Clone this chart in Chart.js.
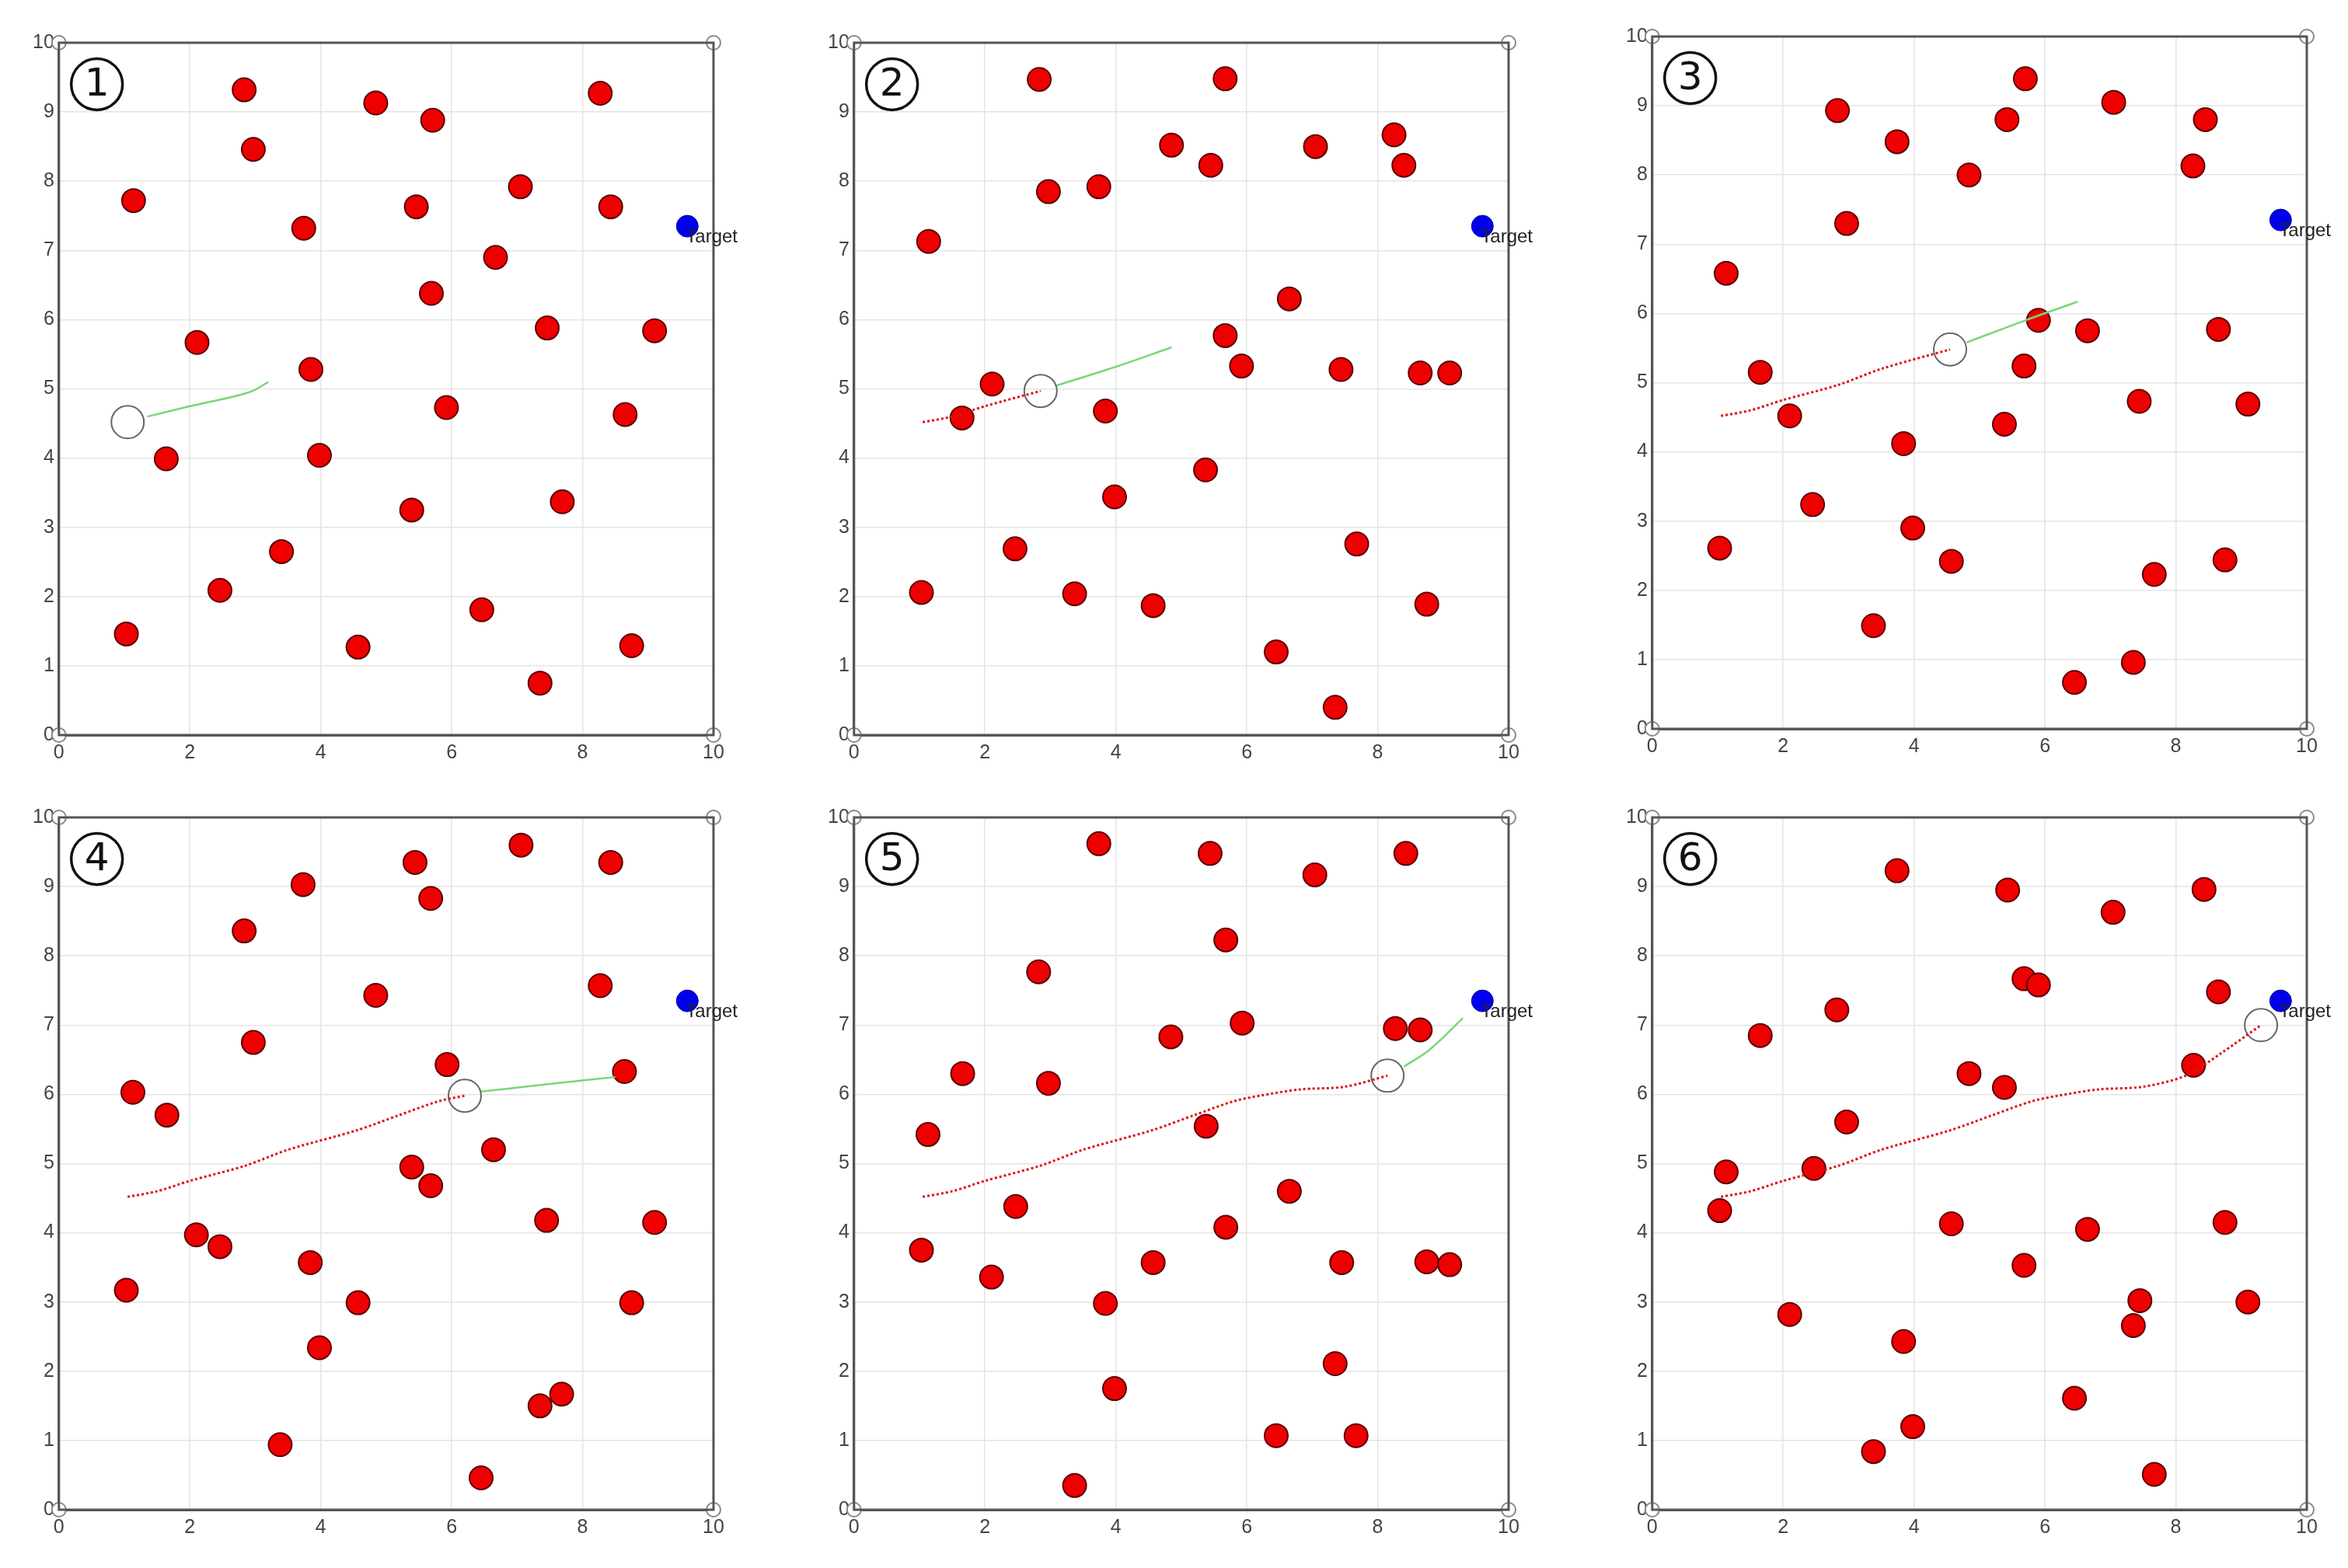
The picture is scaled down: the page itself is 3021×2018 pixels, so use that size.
<!DOCTYPE html>
<html>
<head>
<meta charset="utf-8">
<script src="https://cdn.jsdelivr.net/npm/chart.js@4/dist/chart.umd.min.js"></script>
<style>
  body { margin: 0; background: #fff; width: 3021px; height: 2018px; position: relative; overflow: hidden; }
  canvas { position: absolute; }
</style>
</head>
<body>
<canvas id="c1" width="1000" height="1010" style="left:0px;top:0px"></canvas>
<canvas id="c2" width="1000" height="1010" style="left:1023px;top:0px"></canvas>
<canvas id="c3" width="1000" height="1010" style="left:2050px;top:-8px"></canvas>
<canvas id="c4" width="1000" height="1010" style="left:0px;top:997px"></canvas>
<canvas id="c5" width="1000" height="1010" style="left:1023px;top:997px"></canvas>
<canvas id="c6" width="1000" height="1010" style="left:2050px;top:997px"></canvas>
<script>
// obstacle positions for each frame
const obstacles1 = [[2.83,9.32],[4.84,9.13],[5.71,8.88],[8.27,9.27],[2.97,8.46],[1.14,7.72],[5.46,7.63],[7.05,7.92],[8.43,7.63],[3.74,7.32],[6.67,6.9],[5.69,6.38],[7.46,5.88],[9.1,5.84],[2.11,5.67],[3.85,5.28],[5.92,4.73],[8.65,4.63],[1.64,3.99],[3.98,4.04],[7.69,3.37],[5.39,3.25],[3.4,2.65],[2.46,2.09],[6.46,1.81],[1.03,1.46],[4.57,1.27],[8.75,1.29],[7.35,0.75]];
const obstacles2 = [[2.83,9.47],[5.67,9.48],[4.85,8.52],[5.45,8.23],[7.05,8.5],[8.25,8.67],[8.4,8.23],[2.97,7.85],[3.74,7.92],[1.14,7.13],[6.65,6.3],[5.67,5.77],[5.92,5.33],[7.44,5.28],[8.65,5.23],[9.1,5.23],[2.11,5.07],[1.65,4.58],[3.84,4.68],[3.98,3.44],[5.37,3.83],[2.46,2.69],[7.68,2.76],[1.03,2.06],[3.37,2.04],[4.57,1.87],[8.75,1.89],[6.45,1.2],[7.35,0.4]];
const obstacles3 = [[5.7,9.39],[2.83,8.93],[7.05,9.05],[8.45,8.8],[5.42,8.8],[3.74,8.48],[4.84,8.0],[8.26,8.13],[2.97,7.3],[1.13,6.58],[5.9,5.9],[6.65,5.75],[8.65,5.77],[1.65,5.15],[5.68,5.24],[2.1,4.52],[7.44,4.73],[9.1,4.69],[3.84,4.12],[5.38,4.4],[3.98,2.9],[2.45,3.24],[4.57,2.42],[1.03,2.61],[8.75,2.44],[7.67,2.23],[3.38,1.49],[7.35,0.96],[6.45,0.67]];
const obstacles4 = [[7.06,9.6],[5.44,9.35],[8.43,9.35],[3.73,9.03],[5.68,8.83],[2.83,8.36],[4.84,7.43],[8.27,7.57],[2.97,6.75],[5.93,6.43],[8.64,6.33],[1.13,6.03],[1.65,5.7],[6.64,5.2],[5.39,4.95],[5.68,4.68],[7.45,4.18],[9.1,4.15],[2.1,3.97],[2.46,3.8],[3.84,3.57],[1.03,3.17],[4.57,2.99],[8.75,2.99],[3.98,2.34],[7.35,1.5],[7.68,1.67],[3.38,0.94],[6.45,0.46]];
const obstacles5 = [[3.74,9.62],[5.44,9.48],[8.43,9.48],[7.04,9.17],[5.68,8.23],[2.82,7.77],[8.27,6.95],[8.65,6.93],[5.93,7.03],[4.84,6.83],[1.66,6.3],[2.97,6.16],[1.13,5.42],[5.38,5.54],[2.47,4.38],[6.65,4.6],[5.68,4.08],[3.84,2.98],[4.57,3.57],[7.45,3.57],[8.75,3.58],[9.1,3.54],[1.03,3.75],[2.1,3.36],[7.35,2.11],[3.98,1.75],[6.45,1.07],[7.67,1.07],[3.37,0.35]];
const obstacles6 = [[3.74,9.23],[5.43,8.95],[8.43,8.96],[7.04,8.63],[5.68,7.67],[5.9,7.58],[8.65,7.48],[2.82,7.22],[1.65,6.85],[4.84,6.3],[5.38,6.1],[8.27,6.42],[2.97,5.6],[1.13,4.88],[2.47,4.93],[1.03,4.32],[4.57,4.13],[6.65,4.05],[8.75,4.15],[5.68,3.53],[7.45,3.02],[9.1,3.0],[2.1,2.82],[3.84,2.43],[7.35,2.66],[6.45,1.61],[3.98,1.2],[3.38,0.84],[7.67,0.51]];

// travelled path of the robot, and where it stands in each frame
const trajectory = [[1.05,4.52],[1.5,4.6],[2,4.75],[2.85,4.97],[3.5,5.2],[4.55,5.48],[5.2,5.7],[5.8,5.9],[6.2,5.98],[6.8,6.07],[7.5,6.11],[8.15,6.27],[8.7,6.6],[9.3,7.0]];
const robotStep = [0, 3, 5, 8, 11, 13];

// planned (green) path in each frame
const planned1 = [[1.35,4.6],[2,4.75],[2.9,4.95],[3.2,5.1]];
const planned2 = [[3.1,5.05],[4,5.32],[4.85,5.6]];
const planned3 = [[4.8,5.58],[5.7,5.9],[6.5,6.17]];
const planned4 = [[6.45,6.04],[7.5,6.15],[8.5,6.25]];
const planned5 = [[8.4,6.4],[8.8,6.65],[9.3,7.1]];
const planned6 = [];

const target = [9.6, 7.35];
const corners = [[0,0],[10,0],[0,10],[10,10]];
const xTicks = [0, 2, 4, 6, 8, 10];
const yTicks = [0, 1, 2, 3, 4, 5, 6, 7, 8, 9, 10];
const frameLabels = ['1', '2', '3', '4', '5', '6'];

const allObstacles = [obstacles1, obstacles2, obstacles3, obstacles4, obstacles5, obstacles6];
const allPlanned = [planned1, planned2, planned3, planned4, planned5, planned6];

const pts = arr => arr.map(p => ({x: p[0], y: p[1]}));

const decor = {
  id: 'decor',
  afterDraw(chart) {
    const {ctx, chartArea: a, scales: {x, y}} = chart;
    ctx.save();
    ctx.strokeStyle = '#555';
    ctx.lineWidth = 3;
    ctx.strokeRect(a.left, a.top, a.right - a.left, a.bottom - a.top);
    // frame number in a circle
    const cx = x.getPixelForValue(0.58), cy = y.getPixelForValue(9.4);
    ctx.beginPath();
    ctx.arc(cx, cy, 33, 0, Math.PI * 2);
    ctx.strokeStyle = '#111';
    ctx.lineWidth = 3.5;
    ctx.stroke();
    ctx.fillStyle = '#111';
    ctx.font = '50px "DejaVu Sans"';
    ctx.textAlign = 'center';
    ctx.textBaseline = 'middle';
    ctx.fillText(chart.options.frameLabel, cx, cy + 2);
    // target label
    ctx.font = '24px "Liberation Sans"';
    ctx.textAlign = 'left';
    ctx.textBaseline = 'top';
    ctx.fillStyle = '#222';
    ctx.fillText('Target', x.getPixelForValue(target[0]) - 2, y.getPixelForValue(target[1]) + 2);
    ctx.restore();
  }
};

function makeChart(i) {
  const step = robotStep[i];
  const travelled = trajectory.slice(0, step + 1);
  const robot = trajectory[step];
  new Chart(document.getElementById('c' + (i + 1)), {
    type: 'scatter',
    data: {
      datasets: [
        { data: pts(allPlanned[i]), showLine: true, borderColor: '#7ad67a', borderWidth: 2.5, pointRadius: 0, tension: 0.4 },
        { data: pts(travelled), showLine: true, borderColor: '#e01010', borderWidth: 3, borderDash: [3, 3], pointRadius: 0, tension: 0.3 },
        { data: pts([robot]), pointRadius: 21, backgroundColor: 'rgba(255,255,255,0)', borderColor: '#666', borderWidth: 2 },
        { data: pts(allObstacles[i]), pointRadius: 15, backgroundColor: '#ee0000', borderColor: '#5a0000', borderWidth: 2 },
        { data: pts([target]), pointRadius: 14, backgroundColor: '#0000ee', borderColor: '#000088', borderWidth: 1 },
        { data: pts(corners), pointRadius: 9, backgroundColor: '#fff', borderColor: '#888', borderWidth: 2, clip: false }
      ]
    },
    options: {
      frameLabel: frameLabels[i],
      responsive: false,
      animation: false,
      devicePixelRatio: 1,
      layout: { padding: { left: 36, right: 82, top: 55, bottom: 18 } },
      plugins: { legend: { display: false }, tooltip: { enabled: false } },
      scales: {
        x: {
          type: 'linear', min: 0, max: 10,
          afterBuildTicks: ax => { ax.ticks = xTicks.map(v => ({value: v})); },
          grid: { color: '#e4e4e4', lineWidth: 1.5, drawTicks: false },
          border: { color: '#555', width: 3 },
          ticks: { color: '#444', font: { size: 25, family: 'Liberation Sans' }, padding: 8 }
        },
        y: {
          type: 'linear', min: 0, max: 10,
          afterBuildTicks: ax => { ax.ticks = yTicks.map(v => ({value: v})); },
          grid: { color: '#e4e4e4', lineWidth: 1.5, drawTicks: false },
          border: { color: '#555', width: 3 },
          ticks: { color: '#444', font: { size: 25, family: 'Liberation Sans' }, padding: 6 }
        }
      }
    },
    plugins: [decor]
  });
}

for (let i = 0; i < 6; i++) makeChart(i);
</script>
</body>
</html>
